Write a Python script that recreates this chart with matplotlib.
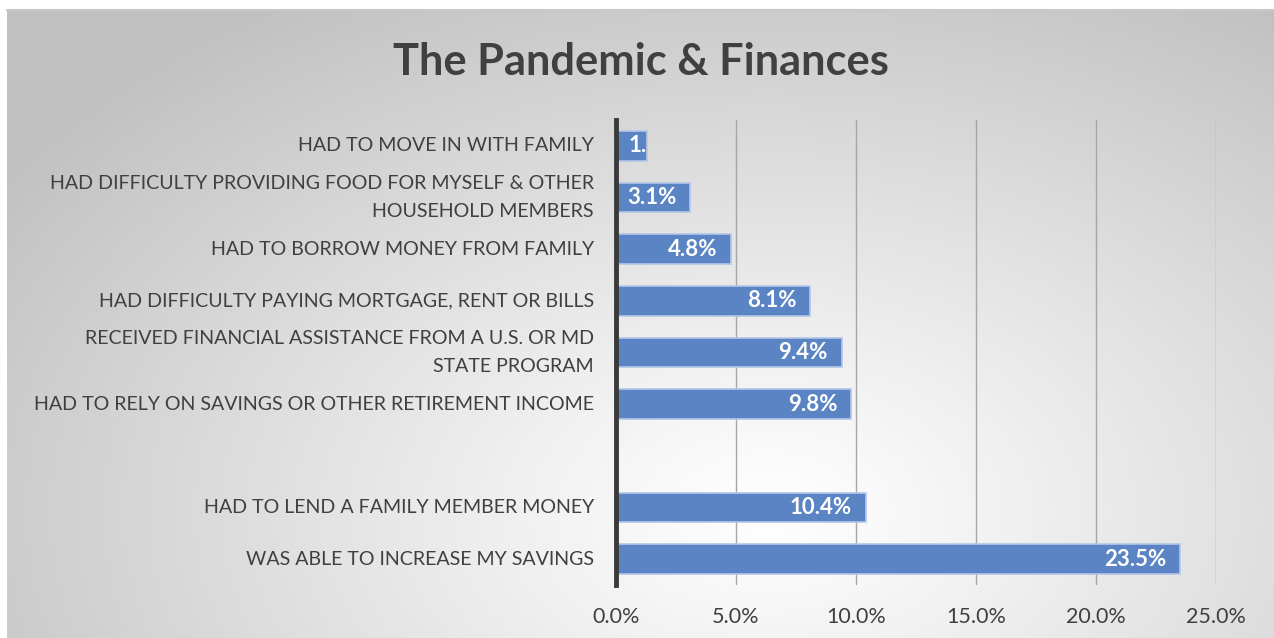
import numpy as np
import matplotlib
import matplotlib.pyplot as plt

matplotlib.use('Agg')

# --- datos ---
categorias = [
    "HAD TO MOVE IN WITH FAMILY",
    "HAD DIFFICULTY PROVIDING FOOD FOR MYSELF & OTHER\nHOUSEHOLD MEMBERS",
    "HAD TO BORROW MONEY FROM FAMILY",
    "HAD DIFFICULTY PAYING MORTGAGE, RENT OR BILLS",
    "RECEIVED FINANCIAL ASSISTANCE FROM A U.S. OR MD\nSTATE PROGRAM",
    "HAD TO RELY ON SAVINGS OR OTHER RETIREMENT INCOME",
    "",
    "HAD TO LEND A FAMILY MEMBER MONEY",
    "WAS ABLE TO INCREASE MY SAVINGS",
]
valores = [1.3, 3.1, 4.8, 8.1, 9.4, 9.8, np.nan, 10.4, 23.5]
ticks_x = [0, 5, 10, 15, 20, 25]

FUENTE = ['Lato', 'DejaVu Sans']
plt.rcParams['font.family'] = FUENTE
GRIS_TEXTO = '#404040'
AZUL = '#5b84c4'

fig = plt.figure(figsize=(12.74, 6.38), dpi=100)
fig.patch.set_facecolor('white')

# --- fondo con degradado radial ---
bg = fig.add_axes([7 / 1274, 0, 1 - 7 / 1274, 1 - 10 / 638], zorder=0)
xx, yy = np.meshgrid(np.linspace(0, 1, 400), np.linspace(0, 1, 200))
r = np.sqrt(((xx - 0.6) / 0.72) ** 2 + ((yy - 0.2) / 0.95) ** 2)
r = np.clip(r, 0, 1)
tono = 1.0 - 0.24 * r ** 1.1
img = np.dstack([tono, tono, tono])
bg.imshow(img, extent=[0, 1, 0, 1], aspect='auto', origin='lower')
bg.set_xlim(0, 1)
bg.set_ylim(0, 1)
for lado in ['left', 'right', 'bottom']:
    bg.spines[lado].set_visible(False)
bg.spines['top'].set_color('#c8c8c8')
bg.spines['top'].set_linewidth(1.5)
bg.set_xticks([])
bg.set_yticks([])

# --- gráfico principal ---
ax = fig.add_axes([616 / 1274, 1 - 585 / 638, 600 / 1274, 465 / 638], zorder=1)
ax.patch.set_alpha(0)

y = np.arange(len(categorias))
barras = ax.barh(y, valores, height=0.58, color=AZUL,
                 edgecolor='#b4c6e7', linewidth=1.2, zorder=3)

ax.set_xlim(0, 25)
ax.set_ylim(len(categorias) - 0.5, -0.5)
ax.set_xticks(ticks_x)
ax.set_xticklabels([f"{t:.1f}%" for t in ticks_x], fontsize=15.5, color=GRIS_TEXTO)
ax.set_yticks(y)
ax.set_yticklabels(categorias, fontsize=14.1, color=GRIS_TEXTO, linespacing=1.8,
                   va='center')
ax.tick_params(axis='both', length=0)
ax.tick_params(axis='y', pad=16)
ax.tick_params(axis='x', pad=16)

ax.grid(axis='x', color='#a6a6a6', linewidth=1.0, zorder=0)
ax.set_axisbelow(True)
for lado in ['top', 'right', 'bottom']:
    ax.spines[lado].set_visible(False)
ax.spines['left'].set_color('#3a3a3a')
ax.spines['left'].set_linewidth(3.5)
ax.spines['left'].set_zorder(4)

# etiquetas de datos dentro de las barras
for barra, v in zip(barras, valores):
    if np.isnan(v):
        continue
    yc = barra.get_y() + barra.get_height() / 2
    txt = f"{v:.1f}%"
    if v < 2:
        t = ax.annotate(txt, (0, yc), xytext=(9, 0), textcoords='offset points',
                        ha='left', va='center', color='white',
                        fontsize=16, fontweight='bold', zorder=5)
    else:
        t = ax.annotate(txt, (v, yc), xytext=(-10, 0), textcoords='offset points',
                        ha='right', va='center', color='white',
                        fontsize=16, fontweight='bold', zorder=5)
    t.set_clip_path(barra)

fig.text(0.503, 1 - 62 / 638, "The Pandemic & Finances", ha='center', va='center',
         fontsize=31.2, fontweight='bold', color=GRIS_TEXTO)

fig.savefig('out.png', dpi=100)
